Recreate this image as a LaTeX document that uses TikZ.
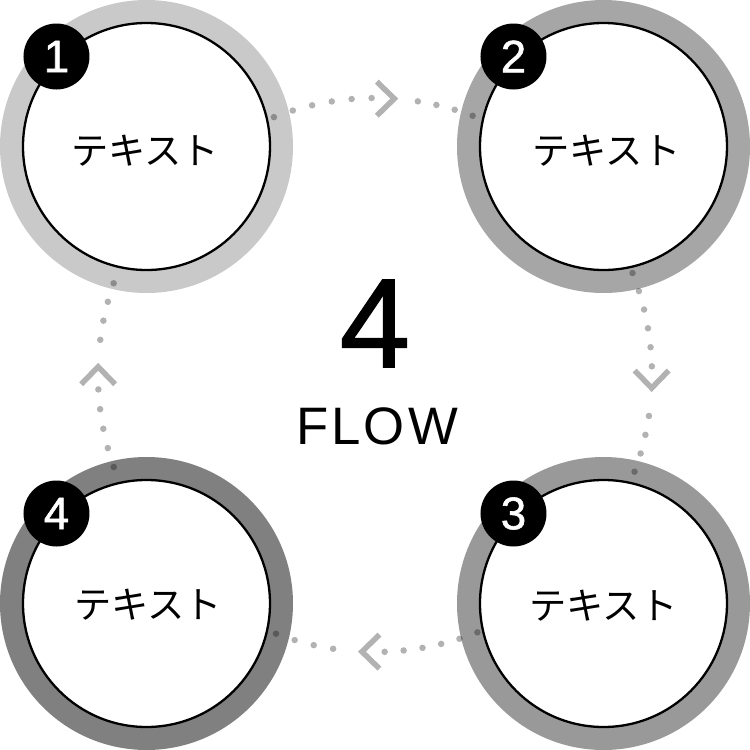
\documentclass[tikz,border=0pt]{standalone}
\usepackage{fontspec}
\setmainfont{Liberation Sans}
\newfontfamily\cjk{Noto Sans CJK JP}
\newfontfamily\flowfont[LetterSpace=6]{Liberation Sans}
\newfontfamily\heavyfont[FakeBold=1.2]{Liberation Sans}
\usetikzlibrary{calc}

\begin{document}
\begin{tikzpicture}[
     ring/.style={circle,minimum size=2.93cm,inner sep=0pt},
     disc/.style={circle,draw=black,line width=0.023cm,fill=white,minimum size=2.47cm,inner sep=0pt},
     badge/.style={circle,fill=black,text=white,minimum size=0.66cm,inner sep=0pt,font=\heavyfont\fontsize{13}{13}\selectfont},
     caption/.style={font=\cjk\fontsize{10.6}{12}\selectfont},
     flowdot/.style={line width=0.065cm,line cap=round,opacity=0.3,dash pattern=on 0pt off #1,looseness=0.85},
     flowtip/.style={line width=0.055cm,opacity=0.3,draw=black}
     ]
\useasboundingbox (-3.75,-3.75) rectangle (3.75,3.75);

%Centre of each ring from the picture centre
\def \off{2.285}
%Radius of the dotted flow circle
\def \rad{2.77}

%Rings, white discs, number badges and captions
\foreach \x/\y/\g/\dx/\dy [count=\i] in {
   -1/1/79/-0.015/-0.045,
   1/1/65/0.03/-0.045,
   1/-1/60/0/-0.025,
   -1/-1/50/0.015/-0.015}
   {
\node[ring,fill=black!\the\numexpr100-\g\relax] (ring\i) at ({\x*\off},{\y*\off}) {};
\node[disc] (disc\i) at (ring\i) {};
\node[caption] (text\i) at ([shift={(\dx,\dy)}]disc\i) {テキスト};
\node[badge] (badge\i) at ([shift={(-0.9,0.9)}]ring\i) {\i};
   }

%Dotted connectors with a chevron half way, turned round the centre
\foreach \r/\a/\b/\n/\t/\c/\d [count=\i] in {
   0/111.4/90.6/5/86/81.1/69.3,
   -90/111.6/91.7/5/87.3/81.5/69.5,
   -180/111.7/91.9/5/87.3/81.3/69,
   -270/109.4/92.9/4/88.3/82.7/70.6}
   {
\begin{scope}[rotate=\r]
\pgfmathsetmacro{\gapa}{0.995*(\a-\b)*pi/180*\rad/\n}
\pgfmathsetmacro{\gapb}{0.995*(\c-\d)*pi/180*\rad/3}
\pgfmathsetmacro{\benda}{(\a-\b)/2}
\pgfmathsetmacro{\bendb}{(\c-\d)/2}
\coordinate (from\i) at (\a:\rad);
\coordinate (near\i) at (\b:\rad);
\coordinate (tip\i) at (\t:\rad);
\coordinate (past\i) at (\c:\rad);
\coordinate (to\i) at (\d:\rad);
\draw[flowdot=\gapa cm] (from\i) to[bend left=\benda] (near\i);
\draw[flowdot=\gapb cm] (past\i) to[bend left=\bendb] (to\i);
\draw[flowtip] (tip\i) ++(-0.175,0.17) -- (tip\i) -- ++(-0.175,-0.17);
\end{scope}
   }

%Title in the middle
\node[font=\heavyfont\fontsize{36}{36}\selectfont] (count) at (0,0.515) {4};
\node[font=\flowfont\fontsize{15}{15}\selectfont] (title) at (0.02,-0.515) {FLOW};
\end{tikzpicture}
\end{document}
